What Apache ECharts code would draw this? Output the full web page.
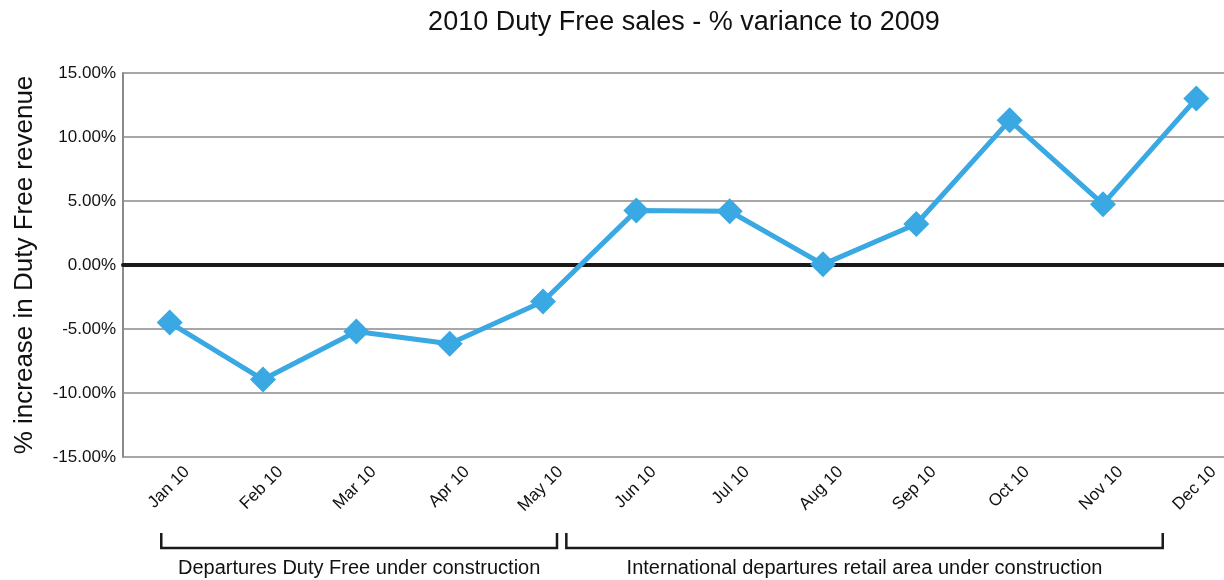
<!DOCTYPE html>
<html>
<head>
<meta charset="utf-8">
<script src="https://cdn.jsdelivr.net/npm/echarts@6/dist/echarts.min.js"></script>
<style>
  html, body { margin: 0; padding: 0; background: #ffffff; }
  #chart { width: 1224px; height: 580px; }
</style>
</head>
<body>
<div id="chart"></div>
<script>
// Monthly variance of duty free sales, 2010 against 2009 (percent)
const months = ['Jan 10', 'Feb 10', 'Mar 10', 'Apr 10', 'May 10', 'Jun 10',
                'Jul 10', 'Aug 10', 'Sep 10', 'Oct 10', 'Nov 10', 'Dec 10'];
const variance = [-4.5, -8.95, -5.2, -6.15, -2.85, 4.25, 4.2, 0.05, 3.2, 11.3, 4.75, 13.0];

// Construction periods shown as brackets under the month labels
// (start / end given in month-index units along the category axis)
const periodLabels = ['Departures Duty Free under construction',
                      'International departures retail area under construction'];
const periodStart = [-0.09, 4.25];
const periodEnd = [4.15, 10.64];

const FONT = '"Liberation Sans", Arial, Helvetica, sans-serif';
const chart = echarts.init(document.getElementById('chart'), null, { renderer: 'canvas' });

chart.setOption({
  animation: false,
  backgroundColor: '#ffffff',
  title: {
    text: '2010 Duty Free sales - % variance to 2009',
    left: 679,
    top: 4,
    textAlign: 'center',
    textStyle: { fontFamily: FONT, fontSize: 27, fontWeight: 'normal', color: '#111111' }
  },
  // the last month band runs past the right edge of the canvas
  grid: {
    left: 123, width: 1120, top: 73, height: 384,
    containLabel: false,
    outerBoundsMode: 'none'
  },
  xAxis: [
    {
      type: 'category',
      data: months,
      boundaryGap: true,
      axisLine: { show: false, onZero: false },
      axisTick: { show: false },
      splitLine: { show: false },
      axisLabel: {
        interval: 0,
        rotate: 45,
        margin: -5,
        verticalAlign: 'top',
        padding: [16, 0, 0, 0],
        fontFamily: FONT,
        fontSize: 17,
        color: '#111111'
      }
    },
    {
      // heavy zero baseline
      type: 'category',
      data: months,
      position: 'bottom',
      boundaryGap: true,
      axisLine: { show: true, onZero: true, lineStyle: { color: '#1a1a1a', width: 4 } },
      axisTick: { show: false },
      axisLabel: { show: false },
      splitLine: { show: false }
    }
  ],
  yAxis: {
    type: 'value',
    min: -15,
    max: 15,
    interval: 5,
    name: '% increase in Duty Free revenue',
    nameLocation: 'middle',
    nameGap: 85,
    nameTextStyle: { fontFamily: FONT, fontSize: 26, color: '#111111' },
    axisLine: { show: true, lineStyle: { color: '#8a8a8a', width: 2 } },
    axisTick: { show: false },
    splitLine: { show: true, lineStyle: { color: '#8a8a8a', width: 1.5 } },
    axisLabel: {
      margin: 7,
      fontFamily: FONT,
      fontSize: 17,
      color: '#111111',
      formatter: v => v.toFixed(2) + '%'
    }
  },
  series: [{
    type: 'line',
    data: variance,
    xAxisIndex: 0,
    z: 5,
    symbol: 'diamond',
    symbolSize: 26,
    lineStyle: { color: '#3aa8e3', width: 5 },
    itemStyle: { color: '#3aa8e3' }
  }]
});

// Brackets and captions for the construction periods
function drawPeriods() {
  const x0 = chart.convertToPixel({ xAxisIndex: 0 }, 0);
  const x11 = chart.convertToPixel({ xAxisIndex: 0 }, months.length - 1);
  const step = (x11 - x0) / (months.length - 1);
  const toX = i => x0 + i * step;
  const topY = 533, barY = 548, textY = 568;
  const elements = [];
  periodLabels.forEach((label, k) => {
    const a = toX(periodStart[k]);
    const b = toX(periodEnd[k]);
    elements.push({
      type: 'polyline',
      shape: { points: [[a, topY], [a, barY], [b, barY], [b, topY]] },
      style: { stroke: '#1a1a1a', lineWidth: 2.5, fill: null }
    });
    elements.push({
      type: 'text',
      x: (a + b) / 2,
      y: textY,
      style: {
        text: label,
        fontFamily: FONT,
        fontSize: 20,
        fill: '#111111',
        align: 'center',
        verticalAlign: 'middle'
      }
    });
  });
  chart.setOption({ graphic: elements });
}
drawPeriods();
</script>
</body>
</html>
